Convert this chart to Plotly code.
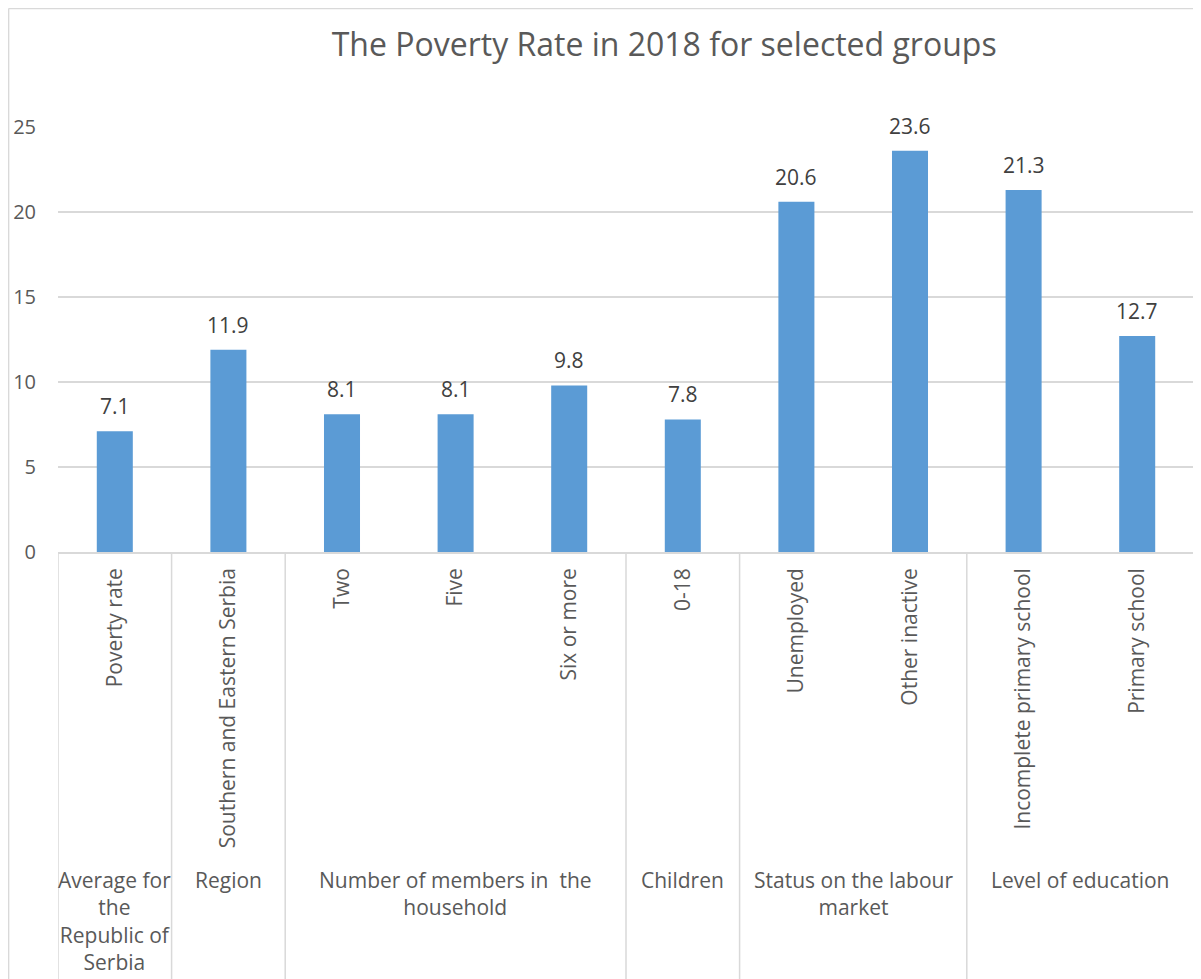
import plotly.graph_objects as go

categories = ["Poverty rate", "Southern and Eastern Serbia", "Two", "Five", "Six or more",
              "0-18", "Unemployed", "Other inactive", "Incomplete primary school", "Primary school"]
values = [7.1, 11.9, 8.1, 8.1, 9.8, 7.8, 20.6, 23.6, 21.3, 12.7]
groups = ["Average for<br>the<br>Republic of<br>Serbia", "Region",
          "Number of members in  the<br>household", "Children",
          "Status on the labour<br>market", "Level of education"]
group_sizes = [1, 1, 3, 1, 2, 2]
y_ticks = [0, 5, 10, 15, 20, 25]

FONT = "Open Sans"
GRAY = "#595959"
LINE = "#d9d9d9"

x = list(range(len(categories)))

fig = go.Figure()
fig.add_trace(go.Bar(
    x=x, y=values, marker=dict(color="#5B9BD5", line=dict(width=0)),
    hoverinfo="skip",
))

shapes = []
annotations = []
# data labels
for xi, v in zip(x, values):
    annotations.append(dict(x=xi, y=v, xref="x", yref="y", text=f"{v:.1f}", showarrow=False,
                            yanchor="bottom", xanchor="center", yshift=9,
                            font=dict(size=21, color="#404040", family=FONT)))
# group separators and labels
start = 0
bounds = [-0.5]
for g, n in zip(groups, group_sizes):
    center = start + (n - 1) / 2
    annotations.append(dict(x=center, y=-0.733, xref="x", yref="paper", text=g,
                            showarrow=False, yanchor="top", xanchor="center", align="center",
                            font=dict(size=21, color=GRAY, family=FONT)))
    start += n
    bounds.append(start - 0.5)
for b in bounds:
    shapes.append(dict(type="line", xref="x", yref="paper", x0=b, x1=b, y0=0, y1=-1.02,
                       line=dict(color=LINE, width=1.5)))
# outer chart frame (left and top)
shapes.append(dict(type="line", xref="paper", yref="paper", x0=-0.0435, x1=-0.0435, y0=-1.02, y1=1.279,
                   line=dict(color=LINE, width=1.5)))
shapes.append(dict(type="line", xref="paper", yref="paper", x0=-0.0435, x1=1.01, y0=1.279, y1=1.279,
                   line=dict(color=LINE, width=1.5)))

fig.update_layout(
    width=1193, height=971,
    margin=dict(l=50, r=7, t=119, b=427, autoexpand=False),
    paper_bgcolor="white", plot_bgcolor="white",
    showlegend=False,
    bargap=0.683,
    title=dict(text="The Poverty Rate in 2018 for selected groups", x=0.55, xanchor="center",
               y=0.962, yanchor="middle", font=dict(size=32, color=GRAY, family=FONT)),
    xaxis=dict(range=[-0.5, 9.5], tickmode="array", tickvals=x, ticktext=categories,
               tickangle=-90, tickfont=dict(size=21, color=GRAY, family=FONT),
               showgrid=False, zeroline=False, showline=True, linecolor=LINE, linewidth=1.5,
               ticks="", ticklabelstandoff=6, automargin=False),
    yaxis=dict(range=[0, 25], tickmode="array", tickvals=y_ticks,
               tickfont=dict(size=20, color=GRAY, family=FONT),
               showgrid=True, gridcolor=LINE, gridwidth=1.5, zeroline=False, showline=False,
               ticks="", ticklabelstandoff=21, automargin=False),
    shapes=shapes, annotations=annotations,
)

fig.write_html("out.html")
